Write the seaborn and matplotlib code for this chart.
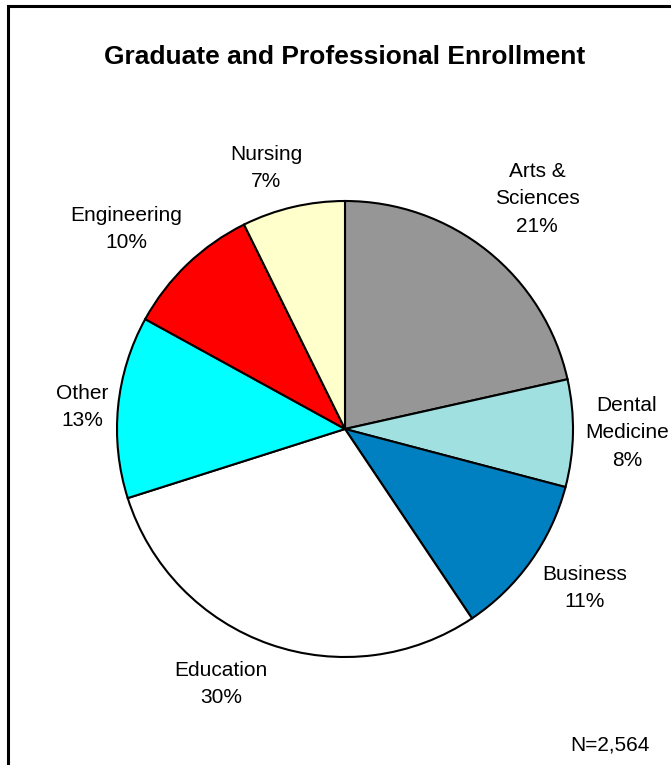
import matplotlib
matplotlib.use("Agg")
import matplotlib.pyplot as plt
import seaborn as sns
from matplotlib.patches import Rectangle

sns.set_theme(style="white")
plt.rcParams['font.family'] = ['Liberation Sans', 'DejaVu Sans']

# Data (clockwise from 12 o'clock)
categories = ["Arts &\nSciences", "Dental\nMedicine", "Business", "Education",
              "Other", "Engineering", "Nursing"]
shares = [21.5, 7.6, 11.5, 29.5, 12.9, 9.7, 7.3]
pct_labels = ["21%", "8%", "11%", "30%", "13%", "10%", "7%"]
colors = ["#969696", "#A0E0E0", "#0080C0", "#FFFFFF", "#00FFFF", "#FF0000", "#FFFFCC"]
title = "Graduate and Professional Enrollment"
note = "N=2,564"

W, H = 671, 765
CX, CY, R = 345, 429, 228

fig = plt.figure(figsize=(W / 100, H / 100), dpi=100)
ax = fig.add_axes([0, 0, 1, 1])

wedges, texts = ax.pie(
    shares, labels=[f"{c}\n{p}" for c, p in zip(categories, pct_labels)],
    colors=colors, startangle=90, counterclock=False,
    wedgeprops=dict(edgecolor="black", linewidth=1.5),
    textprops=dict(fontsize=15, color="black", ha="center", va="center",
                   linespacing=1.56))

# label positions in pixels (center of text block)
label_px = [(537, 199), (627, 433), (585, 588), (221, 684),
            (82, 407), (126, 229), (266, 168)]
for t, (px, py) in zip(texts, label_px):
    t.set_position(((px - CX) / R, (CY - py) / R))
    t.set_ha("center")
    t.set_va("center")

ax.set_xlim(-CX / R, (W - CX) / R)
ax.set_ylim(-(H - CY) / R, CY / R)
ax.set_aspect("auto")
ax.axis("off")

fig.text(345 / W, 1 - 57 / H, title, ha="center", va="center",
         fontsize=19, fontweight="bold", color="black")
fig.text(650 / W, 1 - 745 / H, note, ha="right", va="center",
         fontsize=15, color="black")

# frame (left and top edges visible)
fig.patches.append(Rectangle((7.5 / W, -0.1), 1.2, 1 - 6.5 / H + 0.1,
                             transform=fig.transFigure, fill=False,
                             edgecolor="black", linewidth=2.2, zorder=10))

fig.savefig("out.png", dpi=100, facecolor="white")
